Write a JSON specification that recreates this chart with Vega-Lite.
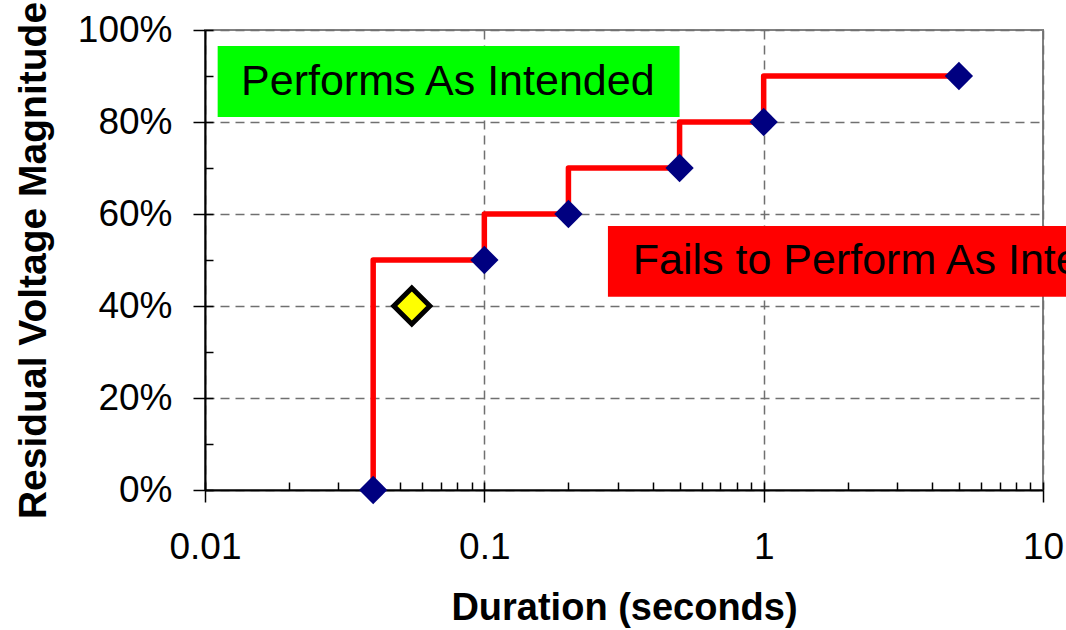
{
  "$schema": "https://vega.github.io/schema/vega-lite/v6.json",
  "width": 838,
  "height": 460,
  "autosize": "none",
  "padding": {"left": 205, "top": 30, "right": 23, "bottom": 140},
  "background": "white",
  "config": {
    "view": {"stroke": "#808080", "strokeWidth": 2},
    "font": "Liberation Sans"
  },
  "datasets": {
    "zones": [
      {"zone": "Performs As Intended", "x": 0.0111, "x2": 0.5, "y": 0.811, "y2": 0.965},
      {"zone": "Fails to Perform As Intended", "x": 0.277, "x2": 20, "y": 0.42, "y2": 0.574}
    ],
    "steps": [
      {"duration": 0.04, "magnitude": 0.0},
      {"duration": 0.1, "magnitude": 0.5},
      {"duration": 0.2, "magnitude": 0.6},
      {"duration": 0.5, "magnitude": 0.7},
      {"duration": 1, "magnitude": 0.8},
      {"duration": 5, "magnitude": 0.9}
    ],
    "test": [
      {"duration": 0.055, "magnitude": 0.4}
    ]
  },
  "resolve": {"axis": {"x": "independent", "y": "independent"}},
  "layer": [
    {
      "data": {"name": "zones"},
      "mark": {"type": "rect", "clip": false},
      "encoding": {
        "x": {
          "field": "x", "type": "quantitative",
          "scale": {"type": "log", "domain": [0.01, 10], "nice": false},
          "axis": {
            "orient": "bottom",
            "values": [0.01, 0.1, 1, 10],
            "format": "~g",
            "title": "Duration (seconds)",
            "grid": true, "gridDash": [9, 6], "gridColor": "#707070", "gridWidth": 1.5,
            "domainColor": "black", "domainWidth": 2,
            "tickColor": "black", "tickWidth": 1.5, "tickSize": 12,
            "labelFontSize": 37, "labelPadding": 27, "labelColor": "black",
            "labelFlush": false, "labelOverlap": false,
            "titleFontSize": 38, "titleFontWeight": "bold", "titleColor": "black", "titlePadding": 24
          }
        },
        "x2": {"field": "x2"},
        "y": {
          "field": "y", "type": "quantitative",
          "scale": {"domain": [0, 1], "nice": false},
          "axis": {
            "orient": "left",
            "values": [0, 0.2, 0.4, 0.6, 0.8, 1],
            "format": ".0%",
            "title": "Residual Voltage Magnitude",
            "grid": true, "gridDash": [9, 6], "gridColor": "#707070", "gridWidth": 1.5,
            "domainColor": "black", "domainWidth": 2,
            "tickColor": "black", "tickWidth": 1.5, "tickSize": 12,
            "labelFontSize": 37, "labelPadding": 21, "labelColor": "black",
            "labelFlush": false, "labelOverlap": false,
            "titleFontSize": 39, "titleFontWeight": "bold", "titleColor": "black", "titlePadding": 24
          }
        },
        "y2": {"field": "y2"},
        "color": {
          "field": "zone", "type": "nominal",
          "scale": {"domain": ["Performs As Intended", "Fails to Perform As Intended"], "range": ["#00FF00", "#FF0000"]},
          "legend": null
        }
      }
    },
    {
      "data": {"values": [{"label": "Performs As Intended", "x": 0.074, "y": 0.888}]},
      "mark": {"type": "text", "fontSize": 43, "font": "Liberation Sans", "color": "black", "align": "center", "baseline": "middle", "clip": false},
      "encoding": {
        "x": {"field": "x", "type": "quantitative", "scale": {"type": "log", "domain": [0.01, 10], "nice": false}, "axis": null},
        "y": {"field": "y", "type": "quantitative", "scale": {"domain": [0, 1], "nice": false}, "axis": null},
        "text": {"field": "label"}
      }
    },
    {
      "data": {"values": [{"label": "Fails to Perform As Intended", "x": 0.34, "y": 0.497}]},
      "mark": {"type": "text", "fontSize": 43, "font": "Liberation Sans", "color": "black", "align": "left", "baseline": "middle", "clip": false},
      "encoding": {
        "x": {"field": "x", "type": "quantitative", "scale": {"type": "log", "domain": [0.01, 10], "nice": false}, "axis": null},
        "y": {"field": "y", "type": "quantitative", "scale": {"domain": [0, 1], "nice": false}, "axis": null},
        "text": {"field": "label"}
      }
    },
    {
      "data": {"name": "steps"},
      "mark": {"type": "line", "interpolate": "step-before", "color": "#FF0000", "strokeWidth": 5.5, "strokeJoin": "round"},
      "encoding": {
        "x": {
          "field": "duration", "type": "quantitative",
          "scale": {"type": "log", "domain": [0.01, 10], "nice": false},
          "axis": {
            "orient": "bottom",
            "values": [0.01, 0.02, 0.03, 0.04, 0.05, 0.06, 0.07, 0.08, 0.09, 0.1, 0.2, 0.3, 0.4, 0.5, 0.6, 0.7, 0.8, 0.9, 1, 2, 3, 4, 5, 6, 7, 8, 9, 10],
            "labels": false, "domain": false, "grid": false, "title": null,
            "ticks": true, "tickSize": -8, "tickColor": "black", "tickWidth": 1.5
          }
        },
        "y": {
          "field": "magnitude", "type": "quantitative",
          "scale": {"domain": [0, 1], "nice": false},
          "axis": {
            "orient": "left",
            "values": [0, 0.1, 0.2, 0.3, 0.4, 0.5, 0.6, 0.7, 0.8, 0.9, 1],
            "labels": false, "domain": false, "grid": false, "title": null,
            "ticks": true, "tickSize": -8, "tickColor": "black", "tickWidth": 1.5
          }
        }
      }
    },
    {
      "data": {"name": "steps"},
      "mark": {"type": "point", "shape": "diamond", "filled": true, "color": "#000080", "size": 800, "opacity": 1, "clip": false},
      "encoding": {
        "x": {"field": "duration", "type": "quantitative", "scale": {"type": "log", "domain": [0.01, 10], "nice": false}, "axis": null},
        "y": {"field": "magnitude", "type": "quantitative", "scale": {"domain": [0, 1], "nice": false}, "axis": null}
      }
    },
    {
      "data": {"name": "test"},
      "mark": {"type": "point", "shape": "diamond", "filled": true, "fill": "#FFFF00", "stroke": "black", "strokeWidth": 5, "size": 1300, "opacity": 1, "strokeOpacity": 1, "fillOpacity": 1, "strokeJoin": "miter"},
      "encoding": {
        "x": {"field": "duration", "type": "quantitative", "scale": {"type": "log", "domain": [0.01, 10], "nice": false}, "axis": null},
        "y": {"field": "magnitude", "type": "quantitative", "scale": {"domain": [0, 1], "nice": false}, "axis": null}
      }
    }
  ]
}
